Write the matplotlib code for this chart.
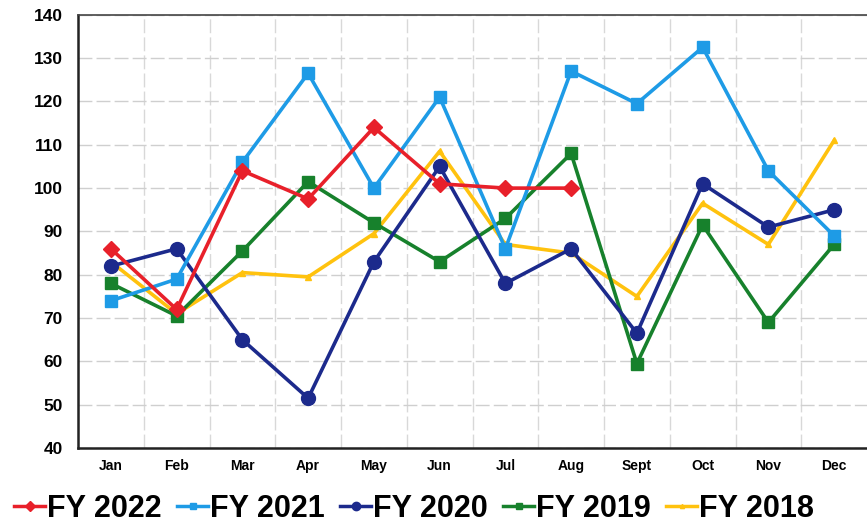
import matplotlib.pyplot as plt
from matplotlib.lines import Line2D

plt.rcParams['font.family'] = ['Liberation Sans', 'DejaVu Sans']

months = ["Jan", "Feb", "Mar", "Apr", "May", "Jun",
          "Jul", "Aug", "Sept", "Oct", "Nov", "Dec"]

fy2022 = [86, 72, 104, 97.5, 114, 101, 100, 100]
fy2021 = [74, 79, 106, 126.5, 100, 121, 86, 127, 119.5, 132.5, 104, 89]
fy2020 = [82, 86, 65, 51.5, 83, 105, 78, 86, 66.5, 101, 91, 95]
fy2019 = [78, 70.5, 85.5, 101.5, 92, 83, 93, 108, 59.5, 91.5, 69, 87]
fy2018 = [83, 71, 80.5, 79.5, 89.5, 108.5, 87, 85, 75, 96.5, 87, 111]

series = [
    ("FY 2022", fy2022, "#e8202a", "D", 8),
    ("FY 2021", fy2021, "#1e9be6", "s", 8),
    ("FY 2020", fy2020, "#1c2a8c", "o", 10),
    ("FY 2019", fy2019, "#17812c", "s", 8),
    ("FY 2018", fy2018, "#ffc20e", "^", 5),
]

fig = plt.figure(figsize=(8.67, 5.29), dpi=100)
ax = fig.add_axes([0.09, 0.153, 0.91, 0.819])

# draw older years first so FY 2022 sits on top
for label, vals, color, marker, ms in reversed(series):
    ax.plot(range(len(vals)), vals, color=color, lw=2.6, marker=marker,
            ms=ms, mec=color, mfc=color, label=label, zorder=3)

ax.set_xlim(-0.5, 11.5)
ax.set_ylim(40, 140)
ax.set_yticks(range(40, 141, 10))
ax.set_xticks(range(12))
ax.set_xticklabels(months, fontsize=10, fontweight="bold")
ax.tick_params(axis="y", labelsize=12.5, length=0, pad=11)
for t in ax.get_yticklabels():
    t.set_fontweight("bold")
ax.tick_params(axis="x", length=0, pad=8)

ax.set_xticks([i + 0.5 for i in range(11)], minor=True)
ax.tick_params(which="minor", length=0)
ax.grid(axis="y", which="major", color="#cfcfcf", lw=1, ls=(0, (10, 3)))
ax.grid(axis="x", which="minor", color="#d8d8d8", lw=1, ls=(0, (10, 3)))
ax.set_axisbelow(True)

for side in ["left", "bottom"]:
    ax.spines[side].set_linewidth(1.8)
    ax.spines[side].set_color("#222222")
ax.spines["top"].set_linewidth(1.2)
ax.spines["top"].set_color("#444444")
ax.spines["right"].set_visible(False)

handles = [Line2D([], [], color=c, lw=2.5, marker=m, ms=ms * 0.6, mfc=c, mec=c)
           for _, _, c, m, ms in series]
labels = [s[0] for s in series]
fig.legend(handles, labels, loc="lower left", bbox_to_anchor=(-0.015, -0.042),
           ncol=5, frameon=False, handlelength=1.0, handletextpad=0.08,
           columnspacing=0.5, prop={"size": 22, "weight": "bold"})

fig.savefig("out.png", dpi=100)
